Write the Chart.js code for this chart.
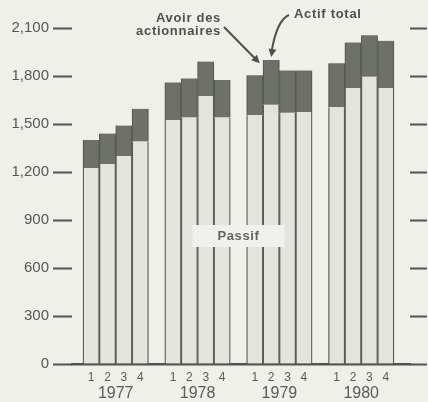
<!DOCTYPE html>
<html><head><meta charset="utf-8">
<script src="https://cdn.jsdelivr.net/npm/chart.js@4.4.0/dist/chart.umd.min.js"></script>
<style>html,body{margin:0;padding:0;background:#eff0ea;}canvas{display:block;}</style>
</head><body>
<canvas id="c" width="428" height="402" style="width:428px;height:402px"></canvas>
<script>
// ---- data ----
const years = ['1977', '1978', '1979', '1980'];
const quarters = ['1', '2', '3', '4'];
const passif = [1225, 1250, 1300, 1390,  1525, 1540, 1675, 1540,  1555, 1620, 1570, 1575,  1605, 1725, 1795, 1725];
const avoir  = [175, 190, 190, 205,  235, 245, 215, 235,  250, 280, 265, 260,  275, 285, 260, 295];
const yTicks = [0, 300, 600, 900, 1200, 1500, 1800, 2100];
const txtPassif = 'Passif';
const txtAvoir = ['Avoir des', 'actionnaires'];
const txtActif = 'Actif total';

// ---- layout helpers ----
const FAM = '"Liberation Sans", Arial, Helvetica, sans-serif';
const GROUP = quarters.length + 1;                 // 4 bars + one empty slot
const pos = passif.map((_, i) => Math.floor(i / quarters.length) * GROUP + (i % quarters.length));
const X_MIN = -1.17, X_MAX = (years.length * GROUP - 2) + 0.5 + 0.98;

const annot = {
  id: 'annot',
  afterDatasetsDraw(chart) {
    const {ctx, scales: {x, y}} = chart;
    ctx.save();
    // Passif label box, centred in the empty slot between 1978 and 1979
    const gx = x.getPixelForValue(2 * GROUP - 1);
    const gy = y.getPixelForValue(800);
    ctx.font = 'bold 13px ' + FAM;
    ctx.letterSpacing = '0.6px';
    const tw = ctx.measureText(txtPassif).width;
    const bw = tw + 50, bh = 22;
    ctx.fillStyle = '#f0f1ec';
    ctx.fillRect(gx - bw / 2, gy - bh / 2, bw, bh);
    ctx.fillStyle = '#62645f';
    ctx.textAlign = 'center';
    ctx.textBaseline = 'middle';
    ctx.fillText(txtPassif, gx, gy);

    // Avoir des actionnaires
    ctx.fillStyle = '#4e504b';
    ctx.textAlign = 'right';
    ctx.font = 'bold 13px ' + FAM;
    ctx.letterSpacing = '0.7px';
    ctx.fillText(txtAvoir[0], 221, 18);
    ctx.fillText(txtAvoir[1], 221, 31);
    // Actif total
    ctx.textAlign = 'left';
    ctx.fillText(txtActif, 294, 14);
    ctx.letterSpacing = '0px';

    const arrowHead = (fx, fy, tx, ty) => {
      const a = Math.atan2(ty - fy, tx - fx), L = 8, W = 4;
      ctx.beginPath();
      ctx.moveTo(tx, ty);
      ctx.lineTo(tx - L * Math.cos(a) + W * Math.sin(a), ty - L * Math.sin(a) - W * Math.cos(a));
      ctx.lineTo(tx - L * Math.cos(a) - W * Math.sin(a), ty - L * Math.sin(a) + W * Math.cos(a));
      ctx.closePath();
      ctx.fill();
    };
    ctx.strokeStyle = '#4e504b';
    ctx.lineWidth = 2;
    // arrow 1 -> shareholders' equity of 1979 Q1/Q2
    const i1 = 2 * quarters.length;
    const t1x = x.getPixelForValue(pos[i1] + 0.3);
    const t1y = y.getPixelForValue(passif[i1] + avoir[i1]) - 12;
    ctx.beginPath(); ctx.moveTo(224, 27); ctx.lineTo(t1x - 4, t1y - 4); ctx.stroke();
    arrowHead(224, 27, t1x, t1y);
    // arrow 2 -> total assets 1979 Q2
    const i2 = i1 + 1;
    const t2x = x.getPixelForValue(pos[i2]);
    const t2y = y.getPixelForValue(passif[i2] + avoir[i2]) - 3;
    ctx.beginPath(); ctx.moveTo(289, 15); ctx.quadraticCurveTo(277, 20, t2x + 0.5, t2y - 6); ctx.stroke();
    arrowHead(277, 20, t2x, t2y);
    ctx.restore();
  }
};

const setYTicks = s => { s.ticks = yTicks.map(v => ({value: v})); };

new Chart(document.getElementById('c'), {
  type: 'bar',
  data: {
    datasets: [
      {
        label: txtPassif,
        data: pos.map((p, i) => ({x: p, y: passif[i]})),
        backgroundColor: '#e3e5dd',
        borderColor: '#585b55',
        borderWidth: {left: 1.3, right: 1.3, top: 0, bottom: 0},
        borderSkipped: false,
        xAxisID: 'x', yAxisID: 'y'
      },
      {
        label: txtAvoir.join(' '),
        data: pos.map((p, i) => ({x: p, y: avoir[i]})),
        backgroundColor: '#6e7169',
        borderColor: '#585b55',
        borderWidth: {left: 1.3, right: 1.3, top: 0, bottom: 0},
        borderSkipped: false,
        xAxisID: 'x', yAxisID: 'y'
      }
    ]
  },
  options: {
    responsive: false,
    animation: false,
    devicePixelRatio: 1,
    layout: {padding: {top: 28, right: 1, bottom: 0, left: 0}},
    plugins: {legend: {display: false}, tooltip: {enabled: false}},
    datasets: {bar: {barPercentage: 1, categoryPercentage: 1}},
    scales: {
      x: {
        type: 'linear', min: X_MIN, max: X_MAX, offset: false, stacked: true, position: 'bottom', weight: 0,
        afterBuildTicks: s => { s.ticks = pos.map(v => ({value: v})); },
        afterFit: s => { s.height = 17; },
        ticks: {autoSkip: false, maxRotation: 0, padding: 6, color: '#5a5c57',
                font: {size: 12, family: FAM}, callback: (v, i) => quarters[i % quarters.length]},
        grid: {display: false, drawTicks: false, offset: false},
        border: {display: true, color: '#50534e', width: 2.5}
      },
      x2: {
        type: 'linear', min: X_MIN, max: X_MAX, offset: false, position: 'bottom', weight: 1,
        afterBuildTicks: s => { s.ticks = years.map((_, g) => ({value: g * GROUP + 1.5})); },
        afterFit: s => { s.height = 21; },
        ticks: {autoSkip: false, maxRotation: 0, padding: 3, color: '#5a5c57',
                font: {size: 16, family: FAM}, callback: (v, i) => years[i]},
        grid: {display: false, drawTicks: false, offset: false},
        border: {display: false}
      },
      y: {
        type: 'linear', min: 0, max: yTicks[yTicks.length - 1], stacked: true, position: 'left',
        afterBuildTicks: setYTicks,
        afterFit: s => { s.width = 72; },
        ticks: {padding: 4, color: '#565853', font: {size: 15, family: FAM},
                callback: v => v.toLocaleString('en-US')},
        grid: {drawOnChartArea: false, tickLength: 19, tickColor: '#50534e', tickWidth: 2},
        border: {display: false}
      },
      y2: {
        type: 'linear', min: 0, max: yTicks[yTicks.length - 1], position: 'right',
        afterBuildTicks: setYTicks,
        afterFit: s => { s.width = 17; },
        ticks: {display: false},
        grid: {drawOnChartArea: false, tickLength: 17, tickColor: '#50534e', tickWidth: 2},
        border: {display: false}
      }
    }
  },
  plugins: [annot]
});
</script>
</body></html>
